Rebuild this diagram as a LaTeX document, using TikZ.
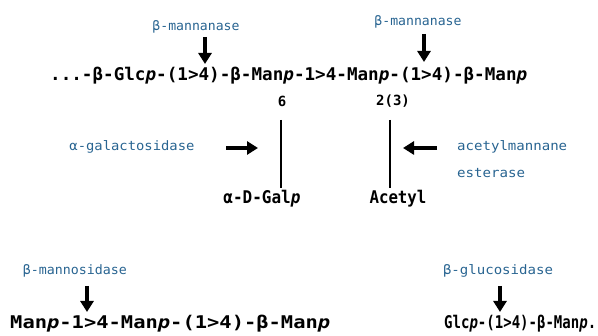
\documentclass[tikz,border=0pt]{standalone}
\usepackage{fontspec}
\usepackage{graphicx}
\setmonofont{DejaVu Sans Mono}
\usetikzlibrary{arrows.meta}
\definecolor{enz}{RGB}{40,100,145}
\newcommand\fitw[2]{\resizebox{#1}{\height}{#2}}
\begin{document}
\begin{tikzpicture}[x=1pt,y=-1pt,
 chain/.style={inner sep=0pt,font=\ttfamily\bfseries\fontsize{17.5}{17.5}\selectfont,text=black},
 enzyme/.style={inner sep=0pt,font=\ttfamily\fontsize{13}{13}\selectfont,text=enz},
 cut/.style={line width=4pt,-{Triangle[length=11pt,width=13pt]}},
 bond/.style={line width=1.4pt}]
\useasboundingbox (0,0) rectangle (598,336);
% main chain
\node[chain,anchor=west] (main) at (50,76) {\fitw{477pt}{...-β-Glc\textit{p}-(1>4)-β-Man\textit{p}-1>4-Man\textit{p}-(1>4)-β-Man\textit{p}}};
\node[enzyme] (mA) at (196,27) {\fitw{87pt}{β-mannanase}};
\node[enzyme] (mB) at (418,22) {\fitw{87pt}{β-mannanase}};
\coordinate (mAt) at (205,37); \coordinate (mAh) at (205,64);
\coordinate (mBt) at (424,34); \coordinate (mBh) at (424,62);
\draw[cut] (mAt) -- (mAh);
\draw[cut] (mBt) -- (mBh);
% branches
\node[chain,font=\ttfamily\bfseries\fontsize{14}{14}\selectfont] (six) at (282,101) {6};
\node[chain,font=\ttfamily\bfseries\fontsize{14}{14}\selectfont] (two) at (393,101) {2(3)};
\node[chain,anchor=center] (gal) at (262,199) {\fitw{77pt}{α-D-Gal\textit{p}}};
\node[chain,anchor=center] (acet) at (398,199) {\fitw{57pt}{Acetyl}};
\coordinate (gT) at (281,120); \coordinate (gB) at (281,188);
\coordinate (aT) at (390,120); \coordinate (aB) at (390,188);
\draw[bond] (gT) -- (gB);
\draw[bond] (aT) -- (aB);
\node[enzyme] (agal) at (132,147) {\fitw{125pt}{α-galactosidase}};
\coordinate (agT) at (226,148); \coordinate (agH) at (258,148);
\draw[cut] (agT) -- (agH);
\node[enzyme,anchor=west] (ace1) at (457,147) {\fitw{110pt}{acetylmannane}};
\node[enzyme,anchor=west] (ace2) at (457,173) {\fitw{68pt}{esterase}};
\coordinate (acT) at (437,148); \coordinate (acH) at (403,148);
\draw[cut] (acT) -- (acH);
% bottom left
\node[enzyme] (mann) at (75,271) {\fitw{104pt}{β-mannosidase}};
\coordinate (mnT) at (87,286); \coordinate (mnH) at (87,312);
\draw[cut] (mnT) -- (mnH);
\node[chain,anchor=west] (bl) at (10,324) {\fitw{320pt}{Man\textit{p}-1>4-Man\textit{p}-(1>4)-β-Man\textit{p}}};
% bottom right
\node[enzyme] (gluc) at (498,271) {\fitw{110pt}{β-glucosidase}};
\coordinate (glT) at (500,286); \coordinate (glH) at (500,312);
\draw[cut] (glT) -- (glH);
\node[chain,anchor=west] (br) at (444,324) {\fitw{152pt}{Glc\textit{p}-(1>4)-β-Man\textit{p}.}};
\end{tikzpicture}
\end{document}
